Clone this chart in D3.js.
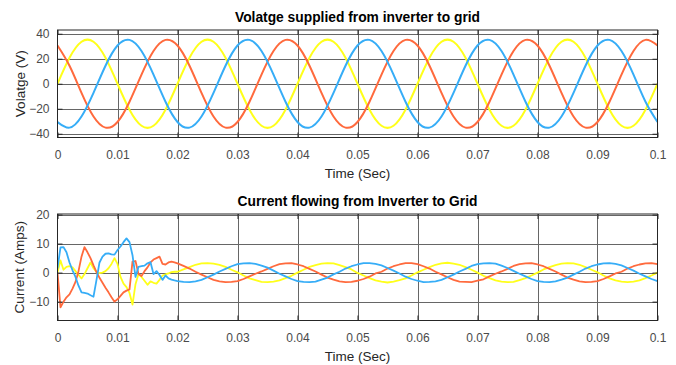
<!DOCTYPE html>
<html><head><meta charset="utf-8">
<script src="https://cdn.jsdelivr.net/npm/d3@7/dist/d3.min.js"></script>
<style>
html,body{margin:0;padding:0;background:#fff;}
svg{display:block;font-family:"Liberation Sans",Arial,Helvetica,sans-serif;}
</style></head>
<body>
<svg id="chart" width="676" height="365"></svg>
<script>
// ---------- DATA ----------
const timeTicks = [0, 0.01, 0.02, 0.03, 0.04, 0.05, 0.06, 0.07, 0.08, 0.09, 0.1];
const timeTickLabels = ["0","0.01","0.02","0.03","0.04","0.05","0.06","0.07","0.08","0.09","0.1"];
const voltTicks = [-40, -20, 0, 20, 40];
const currTicks = [-10, 0, 10, 20];

// Voltage samples every 0.002 s from 0 to 0.1
const voltStep = 0.002;
const voltYellow = [0,20.8,33.6,33.6,20.8,0,-20.8,-33.6,-33.6,-20.8,
  0,20.8,33.6,33.6,20.8,0,-20.8,-33.6,-33.6,-20.8,
  0,20.8,33.6,33.6,20.8,0,-20.8,-33.6,-33.6,-20.8,
  0,20.8,33.6,33.6,20.8,0,-20.8,-33.6,-33.6,-20.8,
  0,20.8,33.6,33.6,20.8,0,-20.8,-33.6,-33.6,-20.8, 0];
const voltOrange = [30.6,14.4,-7.3,-26.2,-35.1,-30.6,-14.4,7.3,26.2,35.1,
  30.6,14.4,-7.3,-26.2,-35.1,-30.6,-14.4,7.3,26.2,35.1,
  30.6,14.4,-7.3,-26.2,-35.1,-30.6,-14.4,7.3,26.2,35.1,
  30.6,14.4,-7.3,-26.2,-35.1,-30.6,-14.4,7.3,26.2,35.1,
  30.6,14.4,-7.3,-26.2,-35.1,-30.6,-14.4,7.3,26.2,35.1, 30.6];
const voltBlue = [-30.6,-35.1,-26.2,-7.3,14.4,30.6,35.1,26.2,7.3,-14.4,
  -30.6,-35.1,-26.2,-7.3,14.4,30.6,35.1,26.2,7.3,-14.4,
  -30.6,-35.1,-26.2,-7.3,14.4,30.6,35.1,26.2,7.3,-14.4,
  -30.6,-35.1,-26.2,-7.3,14.4,30.6,35.1,26.2,7.3,-14.4,
  -30.6,-35.1,-26.2,-7.3,14.4,30.6,35.1,26.2,7.3,-14.4, -30.6];

// Current: transient samples every 0.0005 s (0..0.02), then every 0.001 s (0.021..0.1)
const currTransientStep = 0.0005;
const currSteadyStart = 0.021;
const currSteadyStep = 0.001;
const currBlueTransient = [1.5,8.7,8.8,7.0,3.5,0.8,-1.5,-4.5,-6.8,-7.0,
  -7.2,-7.8,-8.3,-2.5,3.5,5.5,6.5,6.6,6.3,6.2,
  7.8,9.0,10.5,11.8,10.5,6.0,-1.5,2.0,2.2,2.4,
  3.2,3.6,-0.5,0.5,-0.8,-2.5,-1.0,-2.0,-2.4,-2.7, -2.9];
const currOrangeTransient = [0,-12.0,-10.0,-8.5,-7.5,-5.5,-3.2,0.5,5.5,8.8,
  7.0,5.0,2.5,0.2,-1.8,-3.5,-5.2,-6.8,-8.5,-10.0,
  -9.2,-8.0,-6.8,-6.2,-5.8,3.8,4.0,-0.5,-1.2,0.5,
  1.8,3.5,4.5,5.0,5.5,3.0,2.8,3.5,3.8,3.5, 3.2];
const currYellowTransient = [0,4.2,1.0,2.0,2.2,1.8,0.5,-0.8,-2.0,-0.5,
  1.5,3.5,1.5,0.2,-0.2,0.0,0.5,1.5,3.0,5.0,
  3.0,-1.5,-3.8,-5.0,-7.0,-11.0,-4.0,-0.5,-1.5,-2.8,
  -4.2,-3.0,-3.5,-3.8,-2.5,-1.0,-0.6,-0.3,0.2,0.3, 0.3];
const currYellowSteady = [
  1.1,1.9,2.7,3.2,3.3,3.1,2.7,2.0,1.0,0.1,-1.0,-2.0,-2.6,-3.2,-3.3,-3.1,-2.7,-1.9,-1.1,0.0,
  1.0,2.0,2.6,3.1,3.3,3.2,2.6,1.9,1.1,-0.1,-1.0,-1.9,-2.7,-3.1,-3.4,-3.1,-2.6,-2.0,-1.0,0.1,
  1.0,1.9,2.7,3.2,3.4,3.1,2.7,1.9,1.0,0.0,-1.1,-1.9,-2.7,-3.1,-3.3,-3.2,-2.6,-1.9,-1.0,0.0,
  1.1,1.9,2.6,3.1,3.3,3.2,2.7,1.9,1.0,0.1,-1.0,-2.0,-2.7,-3.1,-3.3,-3.1,-2.7,-1.9,-1.0,0.0];
const currOrangeSteady = [
  2.3,1.4,0.3,-0.7,-1.6,-2.5,-3.0,-3.3,-3.2,-2.9,-2.2,-1.3,-0.4,0.4,1.3,2.2,2.9,3.2,3.3,2.8,
  2.2,1.3,0.4,-0.7,-1.7,-2.4,-3.0,-3.3,-3.2,-2.8,-2.2,-1.4,-0.3,0.3,1.4,2.2,2.8,3.3,3.3,2.9,
  2.2,1.4,0.3,-0.6,-1.6,-2.5,-3.1,-3.2,-3.3,-2.8,-2.3,-1.3,-0.4,0.4,1.3,2.3,2.9,3.2,3.3,2.8,
  2.2,1.3,0.4,-0.7,-1.7,-2.4,-3.0,-3.3,-3.2,-2.9,-2.2,-1.3,-0.3,0.3,1.4,2.2,2.8,3.2,3.3,2.9];
const currBlueSteady = [
  -3.2,-3.3,-3.0,-2.5,-1.6,-0.7,0.4,1.3,2.2,2.9,3.2,3.3,3.0,2.4,1.7,0.7,-0.4,-1.3,-2.2,-2.9,
  -3.2,-3.3,-3.1,-2.4,-1.7,-0.6,0.3,1.4,2.2,2.8,3.3,3.3,3.0,2.5,1.6,0.7,-0.3,-1.4,-2.2,-2.8,
  -3.3,-3.2,-3.0,-2.5,-1.6,-0.7,0.4,1.3,2.3,2.9,3.2,3.3,3.1,2.4,1.6,0.6,-0.4,-1.3,-2.2,-2.9,
  -3.2,-3.3,-3.0,-2.4,-1.7,-0.7,0.3,1.4,2.2,2.8,3.2,3.3,3.0,2.5,1.6,0.7,-0.4,-1.3,-2.2,-2.9];

const colors = {yellow:"#ffff1a", orange:"#ff6a3d", blue:"#36adf7"};

// ---------- DRAW ----------
const svg = d3.select("#chart");
const x0 = 57.5, x1 = 657.5;

function panel(cfg){
  const x = d3.scaleLinear().domain([0, 0.1]).range([x0, x1]);
  const y = d3.scaleLinear().domain(cfg.ydom).range([cfg.bottom, cfg.top]);
  const g = svg.append("g");
  // grid
  g.append("g").selectAll("line").data(timeTicks.slice(1,-1)).join("line")
    .attr("x1", d=>Math.round(x(d))+0.5).attr("x2", d=>Math.round(x(d))+0.5)
    .attr("y1", cfg.top).attr("y2", cfg.bottom)
    .attr("stroke", "#666").attr("stroke-width", 1);
  g.append("g").selectAll("line").data(cfg.yticks).join("line")
    .attr("x1", x0).attr("x2", x1)
    .attr("y1", d=>Math.round(y(d))+0.5).attr("y2", d=>Math.round(y(d))+0.5)
    .attr("stroke", "#666").attr("stroke-width", 1);
  // lines
  const clipId = "clip" + cfg.id;
  svg.append("clipPath").attr("id", clipId).append("rect")
    .attr("x", x0).attr("y", cfg.top).attr("width", x1-x0).attr("height", cfg.bottom-cfg.top);
  const lg = g.append("g").attr("clip-path", `url(#${clipId})`);
  cfg.series.forEach(s=>{
    const line = d3.line().x(d=>x(d[0])).y(d=>y(d[1])).curve(s.curve || d3.curveLinear);
    lg.append("path").datum(s.data).attr("d", line)
      .attr("fill","none").attr("stroke", s.color).attr("stroke-width", cfg.lw)
      .attr("stroke-linejoin","round");
  });
  // axes (inward ticks on all sides)
  const ax = g.append("g").attr("transform", `translate(0,${cfg.bottom})`)
    .call(d3.axisBottom(x).tickValues(timeTicks).tickFormat((d,i)=>timeTickLabels[i]).tickSizeInner(-5).tickSizeOuter(0).tickPadding(13));
  const axT = g.append("g").attr("transform", `translate(0,${cfg.top})`)
    .call(d3.axisTop(x).tickValues(timeTicks).tickFormat("").tickSizeInner(-5).tickSizeOuter(0));
  const ay = g.append("g").attr("transform", `translate(${x0},0)`)
    .call(d3.axisLeft(y).tickValues(cfg.yticks).tickSizeInner(-5).tickSizeOuter(0).tickPadding(8));
  const ayR = g.append("g").attr("transform", `translate(${x1},0)`)
    .call(d3.axisRight(y).tickValues(cfg.yticks).tickFormat("").tickSizeInner(-5).tickSizeOuter(0));
  [ax, axT, ay, ayR].forEach(a=>{
    a.select(".domain").remove();
    a.selectAll(".tick line").attr("stroke","#262626");
    a.selectAll("text").attr("fill","#4a4a4a").style("font-size","12px").style("font-family","'Liberation Sans',Arial,sans-serif");
  });
  // box
  g.append("rect").attr("x", x0).attr("y", cfg.top).attr("width", x1-x0).attr("height", cfg.bottom-cfg.top)
    .attr("fill","none").attr("stroke","#262626").attr("stroke-width",1);
  // title
  g.append("text").attr("x", (x0+x1)/2).attr("y", cfg.top-8).attr("text-anchor","middle")
    .style("font-size","13.8px").style("font-weight","bold").attr("fill","#000").text(cfg.title);
  // x label
  g.append("text").attr("x", (x0+x1)/2).attr("y", cfg.bottom+40).attr("text-anchor","middle")
    .style("font-size","13.5px").attr("fill","#262626").text("Time (Sec)");
  // y label
  g.append("text").attr("transform", `translate(${cfg.ylabX},${(cfg.top+cfg.bottom)/2}) rotate(-90)`)
    .attr("text-anchor","middle").style("font-size","13.5px").attr("fill","#262626").text(cfg.ylabel);
}

const voltData = arr => arr.map((v,i)=>[i*voltStep, v]);
const currData = (tr, st) => tr.map((v,i)=>[i*currTransientStep, v])
  .concat(st.map((v,i)=>[currSteadyStart + i*currSteadyStep, v]));

panel({id:"v", top:30, bottom:137.5, ydom:[-43,43], yticks:voltTicks, lw:2,
  title:"Volatge supplied from inverter to grid", ylabel:"Volatge (V)", ylabX:25,
  series:[
    {color:colors.yellow, data:voltData(voltYellow), curve:d3.curveNatural},
    {color:colors.orange, data:voltData(voltOrange), curve:d3.curveNatural},
    {color:colors.blue, data:voltData(voltBlue), curve:d3.curveNatural}
  ]});

panel({id:"c", top:214, bottom:320.5, ydom:[-16.5,20.2], yticks:currTicks, lw:1.8,
  title:"Current flowing from Inverter to Grid", ylabel:"Current (Amps)", ylabX:24,
  series:[
    {color:colors.yellow, data:currData(currYellowTransient, currYellowSteady)},
    {color:colors.orange, data:currData(currOrangeTransient, currOrangeSteady)},
    {color:colors.blue, data:currData(currBlueTransient, currBlueSteady)}
  ]});
</script>
</body></html>
